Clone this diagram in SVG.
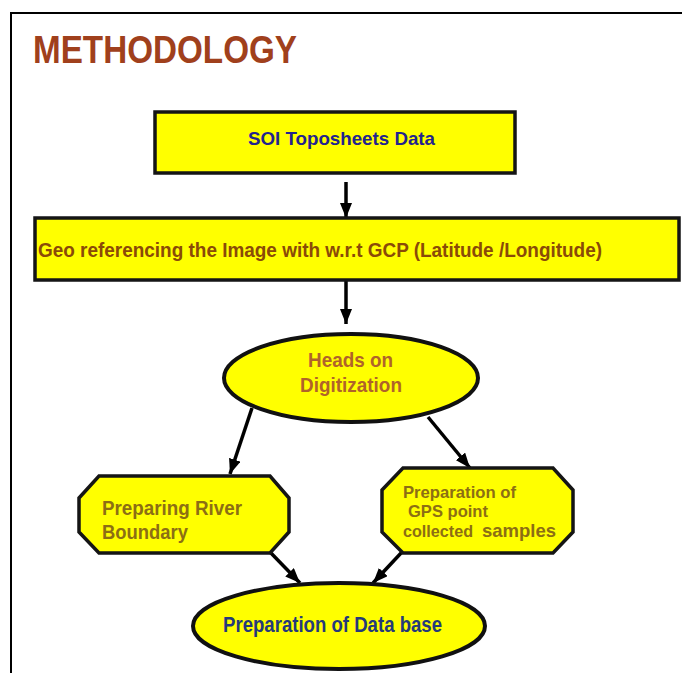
<svg xmlns="http://www.w3.org/2000/svg" width="682" height="673" viewBox="0 0 682 673">
<defs>
<style>
text{font-family:"Liberation Sans",Arial,sans-serif;font-weight:bold;}
.shape{fill:#FFFF00;stroke:#151515;stroke-width:3.5;}
.oval{fill:#FFFF00;stroke:#111;stroke-width:4;}
.conn{stroke:#000;stroke-width:3.5;fill:none;marker-end:url(#ah);}
</style>
<marker id="ah" markerUnits="userSpaceOnUse" markerWidth="15" markerHeight="12" refX="15" refY="6" orient="auto">
<path d="M0,0 L15,6 L0,12 z" fill="#000"/>
</marker>
</defs>
<rect x="0" y="0" width="682" height="673" fill="#fff"/>
<rect x="11" y="13" width="700" height="700" fill="none" stroke="#000" stroke-width="2"/>
<text x="33" y="63" font-size="39" fill="#A0401C" textLength="264" lengthAdjust="spacingAndGlyphs">METHODOLOGY</text>

<g id="connectors">
<line class="conn" x1="346" y1="182" x2="346" y2="218"/>
<line class="conn" x1="346" y1="280" x2="346" y2="324"/>
<line class="conn" x1="252" y1="408" x2="230" y2="474"/>
<line class="conn" x1="428" y1="417" x2="470" y2="468"/>
<line class="conn" x1="270" y1="552" x2="300" y2="583"/>
<line class="conn" x1="402" y1="552" x2="373" y2="583"/>
</g>

<g id="soi">
<rect class="shape" x="155" y="112" width="360" height="61"/>
<text x="248" y="145" font-size="18.5" fill="#23238E" textLength="187" lengthAdjust="spacingAndGlyphs">SOI Toposheets Data</text>
</g>

<g id="georef">
<rect class="shape" x="35" y="218" width="644" height="62"/>
<text x="38" y="257" font-size="20" fill="#8A4A08" textLength="564" lengthAdjust="spacingAndGlyphs">Geo referencing the Image with w.r.t GCP (Latitude /Longitude)</text>
</g>

<g id="heads">
<ellipse class="oval" cx="351" cy="378" rx="127" ry="44"/>
<text x="308" y="367" font-size="21" fill="#B0632A" textLength="85" lengthAdjust="spacingAndGlyphs">Heads on</text>
<text x="300" y="392" font-size="21" fill="#B0632A" textLength="102" lengthAdjust="spacingAndGlyphs">Digitization</text>
</g>

<g id="river">
<polygon class="shape" points="99,476 270,476 289,498 289,532 270,553 99,553 79,532 79,498"/>
<text x="102" y="515" font-size="21" fill="#8C6E14" textLength="140" lengthAdjust="spacingAndGlyphs">Preparing River</text>
<text x="102" y="539" font-size="21" fill="#8C6E14" textLength="86" lengthAdjust="spacingAndGlyphs">Boundary</text>
</g>

<g id="gps">
<polygon class="shape" points="403,468 553,468 573,490 573,532 553,553 403,553 382,532 382,490"/>
<text x="403" y="498" font-size="16.5" fill="#8C6E14" textLength="113" lengthAdjust="spacingAndGlyphs">Preparation of</text>
<text x="408" y="517" font-size="16.5" fill="#8C6E14" textLength="80" lengthAdjust="spacingAndGlyphs">GPS point</text>
<text y="537" fill="#8C6E14"><tspan x="403" font-size="16.5" textLength="70" lengthAdjust="spacingAndGlyphs">collected</tspan><tspan x="482" font-size="19" textLength="74" lengthAdjust="spacingAndGlyphs">samples</tspan></text>
</g>

<g id="database">
<ellipse class="oval" cx="339" cy="626" rx="146" ry="43"/>
<text x="223" y="632" font-size="22" fill="#253A7A" textLength="219" lengthAdjust="spacingAndGlyphs">Preparation of Data base</text>
</g>
</svg>
